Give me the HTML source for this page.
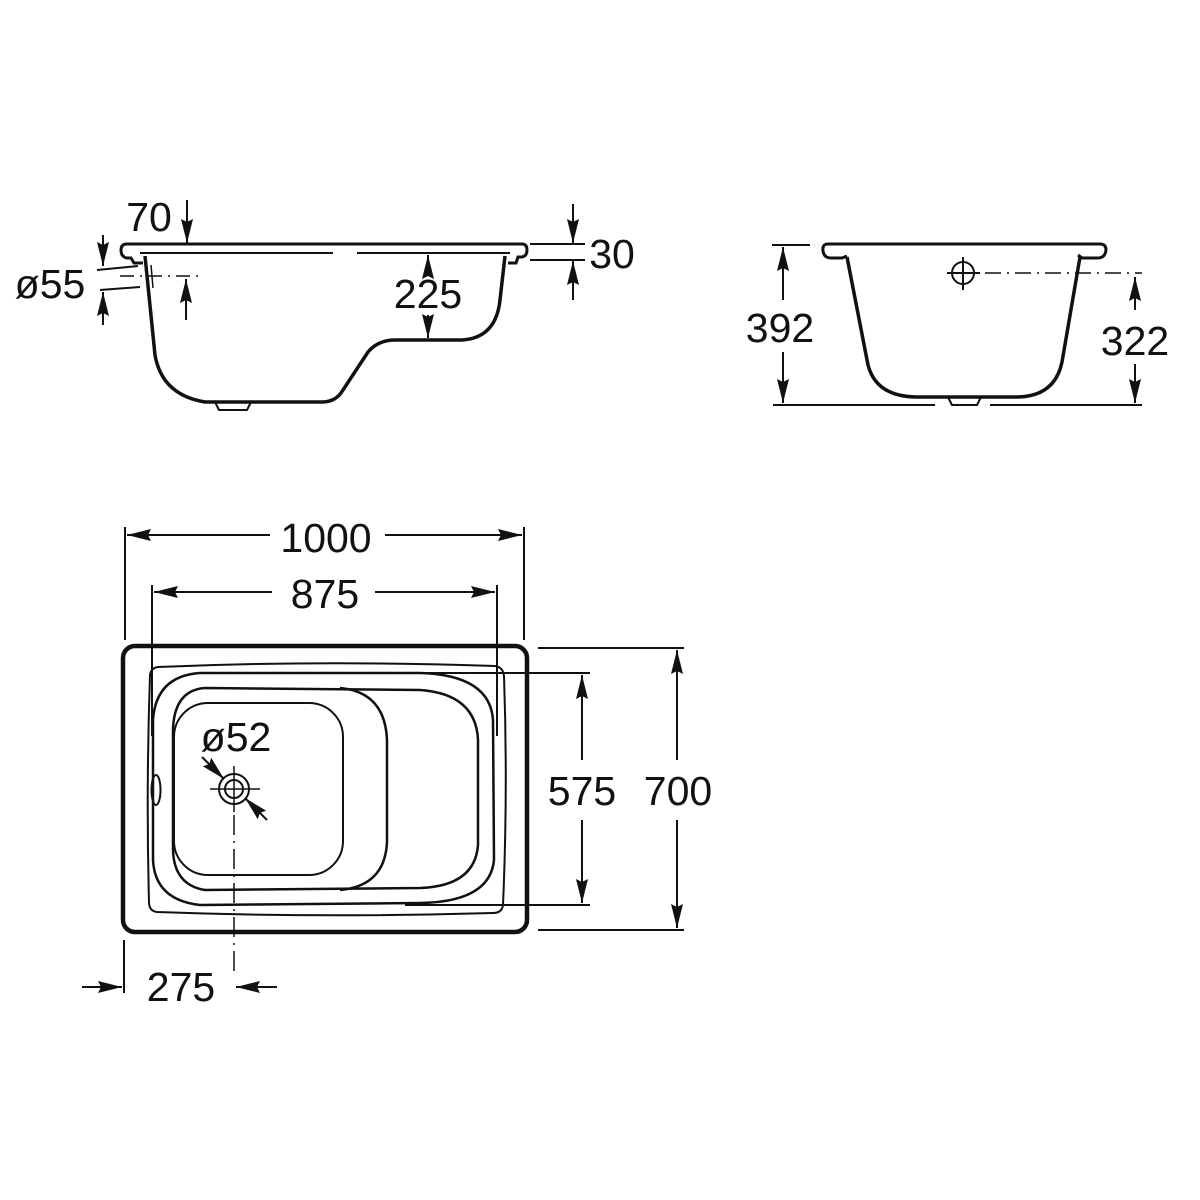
<!DOCTYPE html>
<html><head><meta charset="utf-8"><style>
html,body{margin:0;padding:0;background:#fff;}
svg{display:block;}
text{font-family:"Liberation Sans",Arial,sans-serif;font-size:41px;fill:#111;}
</style></head><body>
<svg width="1200" height="1200" viewBox="0 0 1200 1200" xmlns="http://www.w3.org/2000/svg">
<defs>
<marker id="a" viewBox="0 0 24 12" refX="24" refY="6" markerWidth="24" markerHeight="12" markerUnits="userSpaceOnUse" orient="auto"><path d="M0,0 L24,6 L0,12 L3,6 Z" fill="#111"/></marker>
</defs>
<g stroke="#111" fill="none">
<!-- SIDE VIEW -->
<path d="M127,244 L522,244 Q527,244 527,250 Q527,256 522,257 L518,257 L516,263 L508,263" stroke-width="3"/>
<path d="M127,244 Q121,244 121,250 Q121,257 127,258 L131,258 L134,263 L143,263" stroke-width="3"/>
<line x1="140" y1="253" x2="333" y2="253" stroke-width="2"/>
<line x1="357" y1="253" x2="510" y2="253" stroke-width="2"/>
<path d="M145,256 L155,355 Q162,395 205,402 L322,402 Q336,402 343,390 L368,352 Q378,340 395,340 L462,340 Q496,338 500,300 L505,256" stroke-width="3.5"/>
<path d="M215,402 L219,410 L247,410 L251,402" stroke-width="2"/>
<line x1="151" y1="265" x2="153" y2="288" stroke-width="1.5"/>
<!-- 70 -->
<line x1="187" y1="200" x2="187" y2="243" stroke-width="2" marker-end="url(#a)"/>
<!-- o55 -->
<line x1="103" y1="235" x2="103" y2="266" stroke-width="2" marker-end="url(#a)"/>
<line x1="103" y1="325" x2="103" y2="292" stroke-width="2" marker-end="url(#a)"/>
<line x1="97" y1="270" x2="138" y2="266" stroke-width="2"/>
<line x1="100" y1="290" x2="140" y2="287" stroke-width="2"/>
<line x1="120" y1="276" x2="200" y2="276" stroke-width="1.5" stroke-dasharray="14,6,2,6"/>
<line x1="186" y1="320" x2="186" y2="279" stroke-width="2" marker-end="url(#a)"/>
<!-- 225 -->
<line x1="428" y1="275" x2="428" y2="255" stroke-width="2" marker-end="url(#a)"/>
<line x1="428" y1="315" x2="428" y2="338" stroke-width="2" marker-end="url(#a)"/>
<!-- 30 -->
<line x1="530" y1="244" x2="585" y2="244" stroke-width="2"/>
<line x1="530" y1="260" x2="585" y2="260" stroke-width="2"/>
<line x1="573" y1="204" x2="573" y2="243" stroke-width="2" marker-end="url(#a)"/>
<line x1="573" y1="300" x2="573" y2="261" stroke-width="2" marker-end="url(#a)"/>

<!-- END VIEW -->
<path d="M828,244 L1100,244 Q1106,244 1106,250 Q1105,258 1098,258 L1082,258 L1078,255" stroke-width="3"/>
<path d="M828,244 Q822,244 823,251 Q824,258 831,258 L842,258 L847,256" stroke-width="3"/>
<path d="M847,257 L868,365 Q876,396 915,397 L1018,397 Q1055,396 1062,362 L1080,257" stroke-width="3.5"/>
<path d="M948,397 L952,405 L977,405 L981,397" stroke-width="2"/>
<line x1="772" y1="245" x2="810" y2="245" stroke-width="2"/>
<line x1="773" y1="405" x2="935" y2="405" stroke-width="2"/>
<line x1="990" y1="405" x2="1142" y2="405" stroke-width="2"/>
<circle cx="963" cy="273" r="11" stroke-width="2"/>
<line x1="947" y1="273" x2="980" y2="273" stroke-width="2"/>
<line x1="963" y1="257" x2="963" y2="290" stroke-width="2"/>
<line x1="985" y1="273" x2="1142" y2="273" stroke-width="1.5" stroke-dasharray="16,6,2,6"/>
<line x1="783" y1="300" x2="783" y2="247" stroke-width="2" marker-end="url(#a)"/>
<line x1="783" y1="352" x2="783" y2="403" stroke-width="2" marker-end="url(#a)"/>
<line x1="1135" y1="310" x2="1135" y2="277" stroke-width="2" marker-end="url(#a)"/>
<line x1="1135" y1="364" x2="1135" y2="403" stroke-width="2" marker-end="url(#a)"/>

<!-- PLAN VIEW -->
<rect x="123" y="646" width="404" height="286" rx="12" stroke-width="4.5"/>
<path d="M158,667 Q320,660 495,666 Q503,667 504,676 Q508,790 503,905 Q502,913 493,913 Q320,918 157,912 Q149,911 149,902 Q146,790 150,675 Q151,668 158,667 Z" stroke-width="2"/>
<path d="M200,673 L420,673 Q490,675 493,720 L494,860 Q490,902 420,903 L200,905 Q155,900 153,860 L153,720 Q156,676 200,673 Z" stroke-width="2.5"/>
<path d="M205,688 L420,690 Q476,694 478,740 L478,845 Q475,886 420,888 L205,890 Q174,885 173,850 L173,728 Q175,690 205,688 Z" stroke-width="2.5"/>
<path d="M340,688 Q385,692 387,740 L387,842 Q385,886 340,890" stroke-width="2.5"/>
<rect x="174" y="703" width="169" height="172" rx="34" stroke-width="2"/>
<line x1="405" y1="673" x2="590" y2="673" stroke-width="2"/>
<line x1="405" y1="905" x2="590" y2="905" stroke-width="2"/>
<line x1="152" y1="585" x2="152" y2="736" stroke-width="2"/>
<line x1="497" y1="585" x2="497" y2="736" stroke-width="2"/>
<line x1="125" y1="527" x2="125" y2="640" stroke-width="2"/>
<line x1="524" y1="527" x2="524" y2="640" stroke-width="2"/>
<line x1="538" y1="648" x2="684" y2="648" stroke-width="2"/>
<line x1="538" y1="930" x2="684" y2="930" stroke-width="2"/>
<ellipse cx="156" cy="790" rx="4.5" ry="15" stroke-width="2"/>
<!-- drain -->
<circle cx="234" cy="789" r="15" stroke-width="2"/>
<circle cx="234" cy="789" r="9" stroke-width="2"/>
<line x1="210" y1="789" x2="260" y2="789" stroke-width="1.5"/>
<line x1="234" y1="766" x2="234" y2="812" stroke-width="1.5"/>
<line x1="234" y1="815" x2="234" y2="975" stroke-width="1.5" stroke-dasharray="20,6,2,6"/>
<line x1="202" y1="757" x2="224" y2="779" stroke-width="2" marker-end="url(#a)"/>
<line x1="267" y1="820" x2="245" y2="798" stroke-width="2" marker-end="url(#a)"/>
<!-- 1000 / 875 -->
<line x1="270" y1="535" x2="127" y2="535" stroke-width="2" marker-end="url(#a)"/>
<line x1="385" y1="535" x2="522" y2="535" stroke-width="2" marker-end="url(#a)"/>
<line x1="272" y1="592" x2="154" y2="592" stroke-width="2" marker-end="url(#a)"/>
<line x1="375" y1="592" x2="495" y2="592" stroke-width="2" marker-end="url(#a)"/>
<!-- 575 / 700 -->
<line x1="582" y1="760" x2="582" y2="675" stroke-width="2" marker-end="url(#a)"/>
<line x1="582" y1="820" x2="582" y2="903" stroke-width="2" marker-end="url(#a)"/>
<line x1="677" y1="760" x2="677" y2="650" stroke-width="2" marker-end="url(#a)"/>
<line x1="677" y1="820" x2="677" y2="928" stroke-width="2" marker-end="url(#a)"/>
<!-- 275 -->
<line x1="124" y1="940" x2="124" y2="993" stroke-width="2"/>
<line x1="82" y1="987" x2="122" y2="987" stroke-width="2" marker-end="url(#a)"/>
<line x1="277" y1="987" x2="236" y2="987" stroke-width="2" marker-end="url(#a)"/>
</g>
<text x="149" y="231" text-anchor="middle">70</text>
<text x="50" y="298" text-anchor="middle">ø55</text>
<text x="428" y="308" text-anchor="middle">225</text>
<text x="612" y="268" text-anchor="middle">30</text>
<text x="780" y="342" text-anchor="middle">392</text>
<text x="1135" y="355" text-anchor="middle">322</text>
<text x="326" y="552" text-anchor="middle">1000</text>
<text x="325" y="608" text-anchor="middle">875</text>
<text x="236" y="751" text-anchor="middle">ø52</text>
<text x="582" y="805" text-anchor="middle">575</text>
<text x="678" y="805" text-anchor="middle">700</text>
<text x="181" y="1001" text-anchor="middle">275</text>
</svg>
</body></html>
